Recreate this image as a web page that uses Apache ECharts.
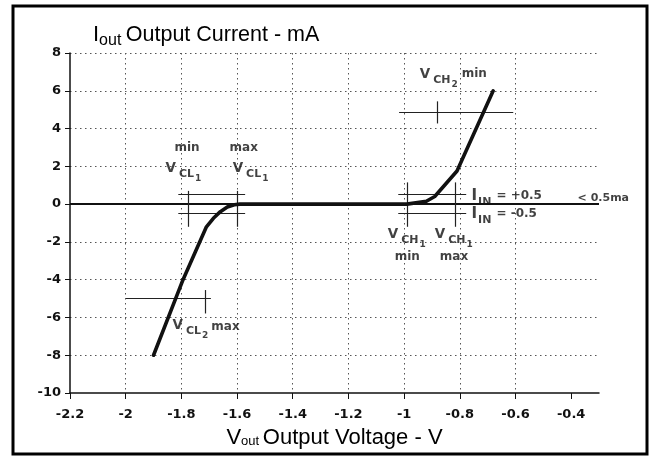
<!DOCTYPE html>
<html>
<head>
<meta charset="utf-8">
<script src="https://cdn.jsdelivr.net/npm/echarts@6/dist/echarts.min.js"></script>
<style>
  html, body { margin: 0; padding: 0; background: #fff; }
  #chart { width: 652px; height: 457px; }
</style>
</head>
<body>
<div id="chart"></div>
<script>
// axis ticks
const xTicks = [-2.2, -2, -1.8, -1.6, -1.4, -1.2, -1, -0.8, -0.6, -0.4];
const yTicks = [-10, -8, -6, -4, -2, 0, 2, 4, 6, 8];

// output current vs output voltage (V, mA)
const vOut = [-1.9, -1.794, -1.71, -1.685, -1.66, -1.635, -1.61, -1.59, -1.0, -0.99, -0.92, -0.89, -0.81, -0.68];
const iOut = [-8, -4, -1.2, -0.75, -0.4, -0.15, -0.03, 0, 0, 0, 0.15, 0.4, 1.75, 6];

// thin marker lines: [x1, y1, x2, y2]
const markerLines = [
  // V CL1 min / max
  [-1.811, 0.5, -1.571, 0.5],
  [-1.811, -0.5, -1.571, -0.5],
  [-1.776, 0.7, -1.776, -1.2],
  [-1.6, 0.7, -1.6, -1.2],
  // V CH1 min / max
  [-1.021, 0.5, -0.777, 0.5],
  [-1.021, -0.5, -0.777, -0.5],
  [-0.99, 1.15, -0.99, -1.2],
  [-0.815, 1.15, -0.815, -1.2],
  // V CH2 min
  [-1.018, 4.84, -0.608, 4.84],
  [-0.881, 5.44, -0.881, 4.27],
  // V CL2 max
  [-1.999, -5, -1.694, -5],
  [-1.715, -4.55, -1.715, -5.79]
];

// annotation texts and where their top-left corner sits (data units)
const noteText = [
  '{w|min}',
  '{v|V}{s|CL}{n|1}',
  '{w|max}',
  '{v|V}{s|CL}{n|1}',
  '{v|V}{s|CH}{n|2}{m|min}',
  '{i|I}{is|IN}{e|= +0.5}',
  '{i|I}{is|IN}{e|= -0.5}',
  '{sm|< 0.5ma}',
  '{v|V}{s|CH}{n|1}',
  '{w|min}',
  '{v|V}{s|CH}{n|1}',
  '{w|max}',
  '{v|V}{s|CL}{n|2}{mx|max}'
];
const noteX = [-1.823, -1.855, -1.625, -1.614, -0.942, -0.756, -0.756, -0.375, -1.057, -1.032, -0.888, -0.870, -1.830];
const noteY = [3.27, 2.21, 3.27, 2.21, 7.18, 0.80, -0.17, 0.57, -1.29, -2.50, -1.29, -2.50, -6.10];

const chart = echarts.init(document.getElementById('chart'));

const bold = { fontFamily: 'DejaVu Sans', fontWeight: 'bold', color: '#111', verticalAlign: 'top' };
const rich = {
  w: Object.assign({ fontSize: 12, lineHeight: 14 }, bold),
  v: Object.assign({ fontSize: 13.5, lineHeight: 14 }, bold),
  s: Object.assign({ fontSize: 11, lineHeight: 12, padding: [7, 0, 0, 3] }, bold),
  n: Object.assign({ fontSize: 9, lineHeight: 10, padding: [12, 0, 0, 1] }, bold),
  m: Object.assign({ fontSize: 12, lineHeight: 14, padding: [0, 0, 0, 4] }, bold),
  mx: Object.assign({ fontSize: 12, lineHeight: 14, padding: [2, 0, 0, 3] }, bold),
  i: Object.assign({ fontSize: 15, lineHeight: 16 }, bold),
  is: Object.assign({ fontSize: 11, lineHeight: 12, padding: [8, 0, 0, 1] }, bold),
  e: Object.assign({ fontSize: 12, lineHeight: 14, padding: [1, 0, 0, 5] }, bold),
  sm: Object.assign({ fontSize: 11, lineHeight: 12 }, bold)
};

const dotted = { color: '#555', width: 1, type: [1.5, 3.5] };
const plain = { fontFamily: 'Liberation Sans', fontWeight: 'normal', color: '#000', verticalAlign: 'top' };

chart.setOption({
  animation: false,
  title: {
    left: 88,
    top: 19,
    text: '{a|I}{b|out }{c|Output Current - mA}',
    textStyle: {
      fontWeight: 'normal',
      rich: {
        a: Object.assign({ fontSize: 22, lineHeight: 24 }, plain),
        b: Object.assign({ fontSize: 16, lineHeight: 16, padding: [9, 0, 0, 0] }, plain),
        c: Object.assign({ fontSize: 21.5, lineHeight: 24 }, plain)
      }
    }
  },
  graphic: [{
    type: 'rect',
    shape: { x: 13, y: 6, width: 634, height: 448 },
    style: { fill: 'none', stroke: '#000', lineWidth: 3 },
    silent: true
  }],
  grid: { left: 70, right: 53, top: 53, bottom: 64 },
  xAxis: {
    type: 'value',
    min: -2.2,
    max: -0.3,
    interval: 0.2,
    name: '{v|V}{o|out }{t|Output Voltage - V}',
    nameLocation: 'middle',
    nameGap: 34,
    nameTextStyle: {
      rich: {
        v: Object.assign({ fontSize: 22, lineHeight: 24 }, plain),
        o: Object.assign({ fontSize: 13, lineHeight: 14, padding: [8, 0, 0, 0] }, plain),
        t: Object.assign({ fontSize: 22, lineHeight: 24 }, plain)
      }
    },
    axisLine: { show: true, onZero: false, lineStyle: { color: '#111', width: 1.5 } },
    axisTick: { show: true, length: 6, customValues: xTicks, lineStyle: { color: '#111', width: 1 } },
    axisLabel: {
      customValues: xTicks,
      margin: 15,
      fontFamily: 'DejaVu Sans', fontWeight: 'bold', fontSize: 13, color: '#111',
      formatter: v => String(Math.round(v * 10) / 10)
    },
    splitLine: { show: true, showMinLine: false, showMaxLine: false, lineStyle: dotted }
  },
  yAxis: {
    type: 'value',
    min: -10,
    max: 8,
    interval: 2,
    axisLine: { show: true, onZero: false, lineStyle: { color: '#111', width: 1.5 } },
    axisTick: { show: true, length: 5, customValues: yTicks, lineStyle: { color: '#111', width: 1 } },
    axisLabel: {
      customValues: yTicks,
      margin: 9,
      fontFamily: 'DejaVu Sans', fontWeight: 'bold', fontSize: 13, color: '#111'
    },
    splitLine: { show: true, showMinLine: false, lineStyle: dotted }
  },
  series: [
    {
      type: 'line',
      data: [],
      silent: true,
      markLine: {
        silent: true,
        symbol: 'none',
        label: { show: false },
        lineStyle: { color: '#222', width: 1.2, type: 'solid' },
        data: [{ yAxis: 0, lineStyle: { width: 1.8, color: '#111' } }].concat(
          markerLines.map(s => [{ coord: [s[0], s[1]] }, { coord: [s[2], s[3]] }])
        )
      }
    },
    {
      type: 'line',
      data: vOut.map((v, k) => [v, iOut[k]]),
      showSymbol: false,
      silent: true,
      lineStyle: { color: '#111', width: 3.6, cap: 'round', join: 'round' },
      z: 5
    },
    {
      type: 'scatter',
      silent: true,
      symbolSize: 1,
      itemStyle: { color: 'transparent' },
      label: {
        show: true,
        position: [0, 0],
        align: 'left',
        verticalAlign: 'top',
        rich: rich
      },
      data: noteText.map((t, k) => ({ value: [noteX[k], noteY[k]], label: { formatter: t } })),
      z: 6
    }
  ]
});
</script>
</body>
</html>
